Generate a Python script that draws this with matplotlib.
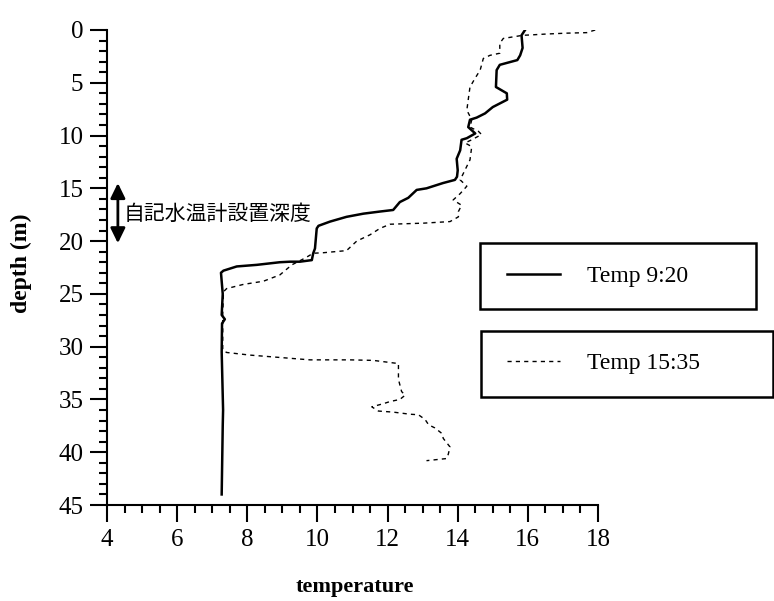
import matplotlib
matplotlib.use("Agg")
import matplotlib.pyplot as plt
from matplotlib.ticker import MultipleLocator
from matplotlib.patches import Rectangle

plt.rcParams['font.family'] = ['Liberation Serif', 'Noto Sans CJK JP']

# Temp 9:20 profile (temperature, depth in m)
temp_920 = [15.92, 15.82, 15.85, 15.78, 15.70, 15.20, 15.11, 15.09, 15.40, 15.41,
            15.00, 14.78, 14.54, 14.35, 14.30, 14.50, 14.26, 14.11, 14.07, 13.97,
            14.00, 13.98, 13.92, 13.58, 13.11, 12.83, 12.59, 12.35, 12.16, 11.78,
            11.31, 10.83, 10.36, 10.03, 9.98, 9.93, 9.88, 9.84, 9.50, 9.22,
            8.93, 8.27, 7.70, 7.32, 7.25, 7.30, 7.27, 7.36, 7.28, 7.27,
            7.31, 7.30, 7.27]
depth_920 = [0.0, 0.5, 1.7, 2.4, 2.85, 3.3, 3.8, 5.4, 6.0, 6.6,
             7.3, 7.9, 8.3, 8.5, 9.2, 9.8, 10.25, 10.4, 11.4, 12.2,
             13.3, 13.9, 14.2, 14.5, 15.0, 15.15, 15.9, 16.3, 17.05, 17.2,
             17.4, 17.7, 18.15, 18.55, 18.8, 20.7, 21.15, 21.8, 21.95, 21.95,
             22.0, 22.25, 22.4, 22.8, 23.0, 25.0, 27.0, 27.4, 27.8, 30.5,
             36.0, 37.5, 44.0]

# Temp 15:35 profile
temp_1535 = [17.92, 17.68, 17.10, 16.54, 16.06, 15.86, 15.30, 15.20, 15.20, 14.92,
             14.73, 14.64, 14.49, 14.35, 14.30, 14.26, 14.40, 14.35, 14.59, 14.68,
             14.40, 14.21, 14.40, 14.35, 14.07, 14.26, 14.07, 13.87, 14.11, 14.02,
             14.02, 13.78, 13.02, 12.07, 11.78, 11.50, 11.12, 10.83, 10.17, 9.88,
             9.65, 9.27, 8.93, 8.46, 7.89, 7.41, 7.32, 7.30, 7.30, 7.41,
             8.08, 8.84, 9.79, 10.93, 11.59, 12.31, 12.31, 12.40, 12.50, 12.35,
             12.07, 11.88, 11.55, 11.74, 12.16, 12.64, 12.88, 13.07, 13.17, 13.35,
             13.54, 13.59, 13.78, 13.73, 13.68, 13.40, 13.11]
depth_1535 = [0.0, 0.25, 0.3, 0.38, 0.47, 0.5, 0.8, 1.26, 2.2, 2.4,
              2.7, 3.8, 4.6, 5.4, 6.6, 7.6, 8.5, 9.2, 9.6, 9.9,
              10.4, 10.7, 11.05, 12.3, 14.2, 14.8, 15.5, 16.1, 16.6, 17.2,
              17.7, 18.15, 18.3, 18.4, 18.8, 19.4, 20.0, 20.9, 21.1, 21.15,
              21.6, 22.25, 23.2, 23.8, 24.1, 24.5, 24.8, 27.0, 30.3, 30.55,
              30.8, 31.0, 31.25, 31.25, 31.3, 31.6, 33.1, 34.25, 34.6, 35.0,
              35.2, 35.4, 35.7, 36.1, 36.2, 36.4, 36.45, 36.9, 37.4, 37.7,
              38.2, 38.7, 39.5, 40.2, 40.6, 40.7, 40.8]

# logger depth range marked with the arrow
logger_x = 4.31
logger_top, logger_bottom = 14.5, 20.2
logger_label = "自記水温計設置深度"
series_labels = ["Temp 9:20", "Temp 15:35"]

W, H = 774, 601
fig = plt.figure(figsize=(W / 100, H / 100), dpi=100)
ax = fig.add_axes([107 / W, 1 - 505 / H, 491 / W, 475 / H])

line1, = ax.plot(temp_920, depth_920, color='black', lw=1.8)
line2, = ax.plot(temp_1535, depth_1535, color='black', lw=1.0, linestyle=(0, (3, 3)))

ax.set_xlim(4, 18)
ax.set_ylim(45, 0)
ax.xaxis.set_major_locator(MultipleLocator(2))
ax.xaxis.set_minor_locator(MultipleLocator(0.5))
ax.yaxis.set_major_locator(MultipleLocator(5))
ax.yaxis.set_minor_locator(MultipleLocator(1))

for side in ['top', 'right']:
    ax.spines[side].set_visible(False)
for side in ['left', 'bottom']:
    ax.spines[side].set_linewidth(1.5)

ax.tick_params(which='major', direction='out', length=12, width=1.5, labelsize=18, pad=5)
ax.tick_params(which='minor', direction='out', length=6, width=1.5)

ax.set_xlabel('temperature', fontsize=16, fontweight='bold')
ax.xaxis.set_label_coords(0.505, -72 / 475)
ax.xaxis.label.set_va('top')
ax.set_ylabel('depth (m)', fontsize=17, fontweight='bold')
ax.yaxis.set_label_coords(-86 / 491, 1 - 233 / 475)
ax.yaxis.label.set_va('center')

# double arrow + label for the logger depth
ax.annotate('', xy=(logger_x, logger_top), xytext=(logger_x, logger_bottom),
            arrowprops=dict(arrowstyle='<|-|>,head_length=0.45,head_width=0.22',
                            mutation_scale=20, lw=2, color='black', shrinkA=0, shrinkB=0))
ax.text(logger_x + 0.15, 17.4, logger_label, fontsize=15,
        family=['Noto Sans CJK JP', 'DejaVu Sans'], va='center', ha='left')

# legend boxes (two separate framed boxes)
for (x0, y0, x1, y1) in [(480, 243, 756, 309), (481, 331, 773, 397)]:
    fig.add_artist(Rectangle((x0 / W, 1 - y1 / H), (x1 - x0) / W, (y1 - y0) / H,
                             transform=fig.transFigure, fill=False, lw=1.8,
                             edgecolor='black', clip_on=False))

fig.legend([line1], [series_labels[0]], loc='center left',
           bbox_to_anchor=(507 / W, 1 - 276 / H), frameon=False, borderpad=0,
           borderaxespad=0, handlelength=2.25, handletextpad=1.14, fontsize=17)
fig.legend([line2], [series_labels[1]], loc='center left',
           bbox_to_anchor=(507 / W, 1 - 363 / H), frameon=False, borderpad=0,
           borderaxespad=0, handlelength=2.25, handletextpad=1.14, fontsize=17)

fig.savefig('out.png', dpi=100)
